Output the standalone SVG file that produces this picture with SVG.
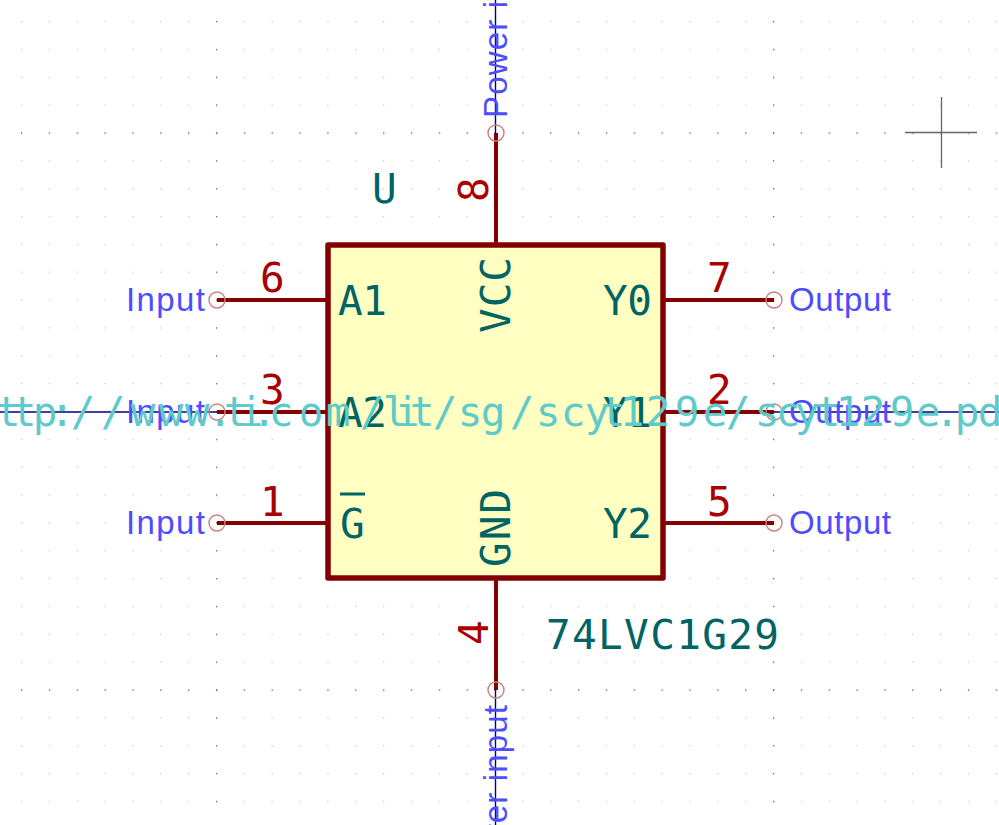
<svg xmlns="http://www.w3.org/2000/svg" width="999" height="825" viewBox="0 0 999 825">
<style>
text{font-family:"DejaVu Sans","Liberation Sans",sans-serif;white-space:pre}
.mono{font-family:"DejaVu Sans Mono","Liberation Mono",monospace}
.name{font-size:41px;fill:#006464}
.num{font-size:41px;fill:#a90000}
.type{font-family:"Liberation Sans",Arial,sans-serif;font-size:33px;fill:#4d4dff}
.url{font-size:41px;fill:#5fcaca;text-anchor:middle}
.pin{stroke:#840000;stroke-width:4;fill:none}
.end{stroke:#c98080;stroke-width:1.4;fill:none}
.wire{stroke:#000084;stroke-width:1.4;fill:none}
</style>
<defs>
<pattern id="minor" patternUnits="userSpaceOnUse" x="21" y="21" width="27.85" height="27.85"><rect width="1.2" height="1.2" fill="#c0c0c0"/></pattern>
<pattern id="major" patternUnits="userSpaceOnUse" x="21" y="21" width="27.85" height="27.85"><rect width="1.3" height="1.3" fill="#707070"/></pattern>
</defs>
<rect width="999" height="825" fill="#fff"/>
<rect width="999" height="825" fill="url(#minor)"/>
<g fill="url(#major)"><rect x="215" y="0" width="4" height="825"/><rect x="772" y="0" width="4" height="825"/><rect x="0" y="131" width="999" height="4"/><rect x="0" y="688" width="999" height="4"/></g>
<g id="connectors">
<path class="wire" d="M0 412H217M774 412H999M495.5 0V133M495.5 690V825"/>
<path class="pin" d="M217 300H328M217 412H328M217 523H328M663 300H774M663 412H774M663 523H774M496 133V245M496 578V690"/>
<circle class="end" cx="217" cy="300" r="8"/><circle class="end" cx="217" cy="412" r="8"/><circle class="end" cx="217" cy="523" r="8"/>
<circle class="end" cx="774" cy="300" r="8"/><circle class="end" cx="774" cy="412" r="8"/><circle class="end" cx="774" cy="523" r="8"/>
<circle class="end" cx="496" cy="133" r="8"/><circle class="end" cx="496" cy="690" r="8"/>
</g>
<g id="cursor"><path d="M905 132.5H977M941.5 97V168" stroke="#666" stroke-width="1.3" fill="none"/></g>
<g id="symbol">
<rect x="328" y="245" width="335" height="333" fill="#ffffc2" stroke="#840000" stroke-width="5.5" stroke-linejoin="round"/>
<text class="mono name" x="338" y="315" textLength="49">A1</text>
<text class="mono name" x="338" y="427" textLength="49">A2</text>
<text class="mono name" x="340" y="538">G</text>
<path d="M340 494H365" stroke="#006464" stroke-width="3" fill="none"/>
<text class="mono name" x="603" y="315" textLength="49">Y0</text>
<text class="mono name" x="603" y="427" textLength="49">Y1</text>
<text class="mono name" x="603" y="538" textLength="49">Y2</text>
<text class="mono name" transform="translate(510 333) rotate(-90)" textLength="76">VCC</text>
<text class="mono name" transform="translate(510 567) rotate(-90)" textLength="78">GND</text>
<text class="mono name" x="372" y="203">U</text>
<text class="mono name" x="546" y="649" textLength="233">74LVC1G29</text>
</g>
<g id="pins">
<text class="mono num" x="260" y="292">6</text>
<text class="mono num" x="260" y="404">3</text>
<text class="mono num" x="260" y="516">1</text>
<text class="mono num" x="707" y="292">7</text>
<text class="mono num" x="707" y="404">2</text>
<text class="mono num" x="707" y="516">5</text>
<text class="mono num" transform="translate(488 202) rotate(-90)">8</text>
<text class="mono num" transform="translate(488 645) rotate(-90)">4</text>
<text class="type" x="126" y="311" textLength="79">Input</text>
<text class="type" x="126" y="423" textLength="79">Input</text>
<text class="type" x="126" y="534" textLength="79">Input</text>
<text class="type" x="789" y="311" textLength="102">Output</text>
<text class="type" x="789" y="423" textLength="102">Output</text>
<text class="type" x="789" y="534" textLength="102">Output</text>
<text class="type" transform="translate(507 118) rotate(-90)" textLength="186">Power input</text>
<text class="type" transform="translate(507 891) rotate(-90)" textLength="186">Power input</text>
</g>
<text class="mono url" y="426" x="-14 8 24 45 62 83 113 143 171 197 220 236 251 264 281 311 338 372 395 407 422 445 470 493 522 548 573 597 613 632 658 687 715 738 767 788 807 828 848 873 902 928 947 967 990 1010">http://www.ti.com/lit/sg/scyt129e/scyt129e.pdf</text>
</svg>
